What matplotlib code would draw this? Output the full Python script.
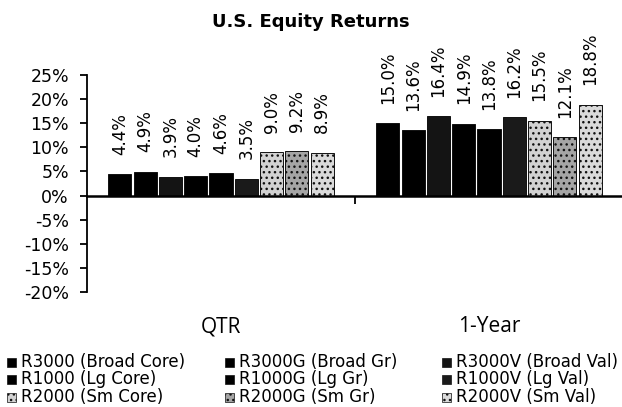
import matplotlib
matplotlib.use("Agg")
import matplotlib.pyplot as plt
from matplotlib.patches import Rectangle
import numpy as np

# data
periods = ["QTR", "1-Year"]
series = ["R3000 (Broad Core)", "R3000G (Broad Gr)", "R3000V (Broad Val)",
          "R1000 (Lg Core)", "R1000G (Lg Gr)", "R1000V (Lg Val)",
          "R2000 (Sm Core)", "R2000G (Sm Gr)", "R2000V (Sm Val)"]
qtr = [4.4, 4.9, 3.9, 4.0, 4.6, 3.5, 9.0, 9.2, 8.9]
one_year = [15.0, 13.6, 16.4, 14.9, 13.8, 16.2, 15.5, 12.1, 18.8]
yticks = [-20, -15, -10, -5, 0, 5, 10, 15, 20, 25]

colors = ["#000000", "#000000", "#141414", "#000000", "#000000", "#1a1a1a",
          "#d2d2d2", "#a5a5a5", "#dadada"]
hatches = [None, None, None, None, None, None, "...", "...", "..."]

W, H = 622, 407
fig = plt.figure(figsize=(W / 100, H / 100), dpi=100)
ax = fig.add_axes([87 / W, 115 / H, 536 / W, 217 / H])

x = np.arange(len(periods))
slot = 0.0944
width = 0.086
for i, name in enumerate(series):
    vals = [qtr[i], one_year[i]]
    pos = x + (i - 4) * slot
    ax.bar(pos, vals, width, color=colors[i], edgecolor="#111111",
           linewidth=0.7, hatch=hatches[i])
    for px, v in zip(pos, vals):
        ax.annotate(f"{v:.1f}%", (px, v), xytext=(0, 14), textcoords="offset points",
                    rotation=90, ha="center", va="bottom", fontsize=12,
                    annotation_clip=False)

ax.set_ylim(-20, 25)
ax.set_xlim(-0.5, 1.5)
ax.set_yticks(yticks)
ax.set_yticklabels([f"{t}%" for t in yticks], fontsize=12.5)
ax.tick_params(axis="y", direction="out", length=5, width=1.3, pad=8)
ax.set_xticks([0.5])
ax.set_xticklabels([""])
ax.tick_params(axis="x", direction="out", length=6, width=1.3)

ax.spines["top"].set_visible(False)
ax.spines["right"].set_visible(False)
ax.spines["bottom"].set_position(("data", 0))
ax.spines["bottom"].set_linewidth(1.8)
ax.spines["left"].set_linewidth(1.3)

for xi, p in zip(x, periods):
    ax.text(xi, -0.16, p, transform=ax.get_xaxis_transform(), ha="center",
            va="center", fontsize=15, family="Open Sans")

fig.text(0.5, 1 - 22 / H, "U.S. Equity Returns", ha="center", va="center",
         fontsize=13, fontweight="bold", family=["Liberation Sans Narrow", "DejaVu Sans"])

# legend, laid out row by row like the original
col_x = [7, 225, 442]
row_y = [362, 379, 397]
for i, name in enumerate(series):
    cx = col_x[i % 3]
    cy = row_y[i // 3]
    fig.patches.append(Rectangle((cx / W, (H - cy - 4.5) / H), 9 / W, 9 / H,
                                 transform=fig.transFigure, facecolor=colors[i],
                                 edgecolor="#111111", linewidth=0.5, hatch=hatches[i]))
    fig.text((cx + 14) / W, (H - cy) / H, name, ha="left", va="center", fontsize=12)

fig.savefig("out.png", dpi=100)
